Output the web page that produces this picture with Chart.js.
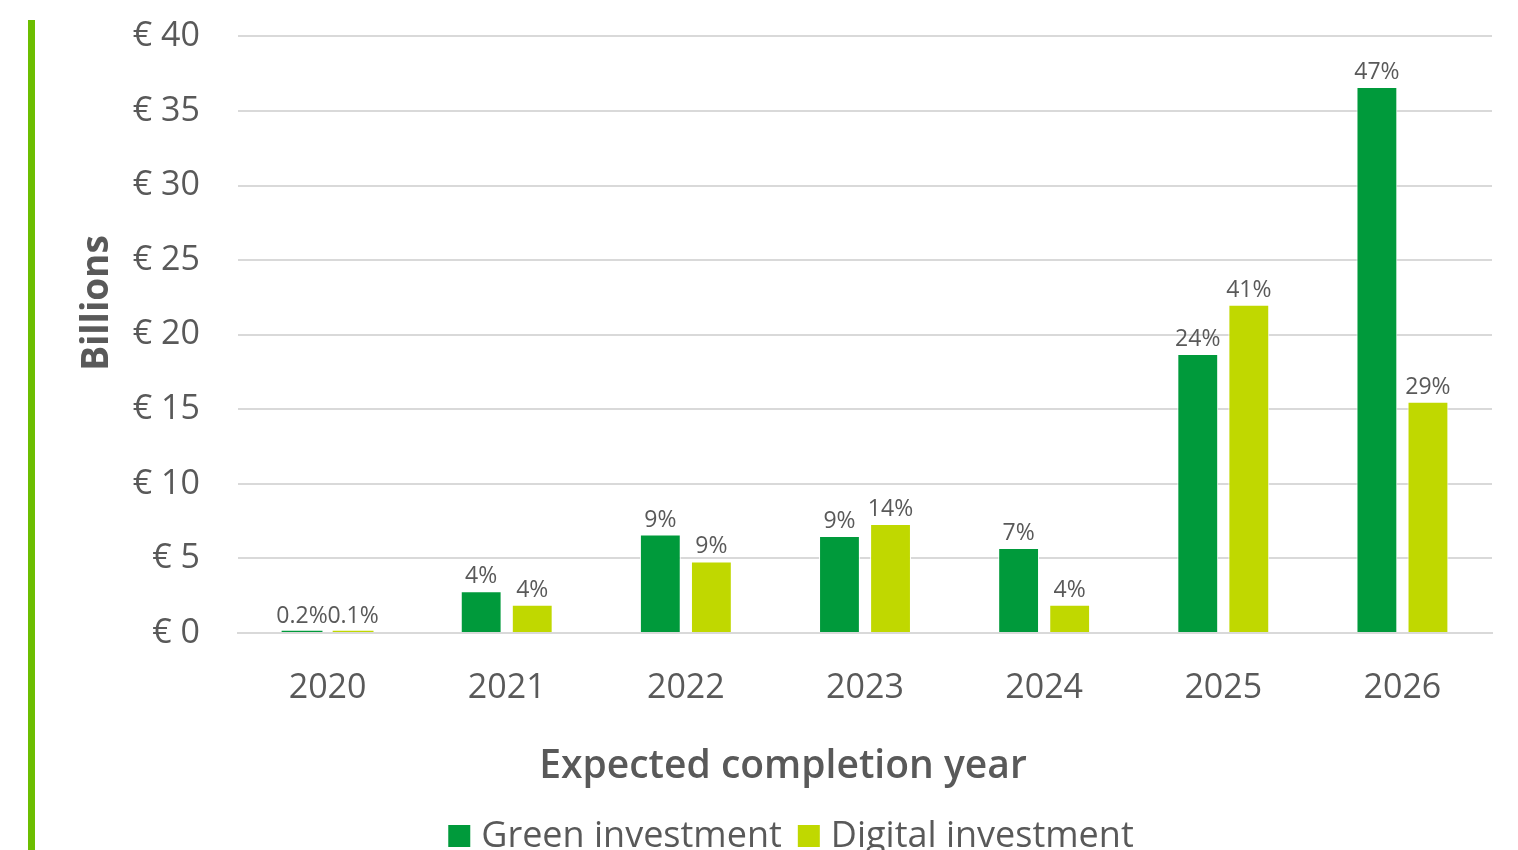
<!DOCTYPE html>
<html>
<head>
<meta charset="utf-8">
<script src="https://cdn.jsdelivr.net/npm/chart.js@4.4.0/dist/chart.umd.min.js"></script>
<style>
  html, body { margin: 0; padding: 0; background: #fff; overflow: hidden; }
  #wrap { position: relative; width: 1518px; height: 850px; overflow: hidden; }
  #bar { position: absolute; left: 28px; top: 20px; width: 7px; height: 830px; background: #6cbe00; }
  #holder { position: absolute; left: 0; top: -22px; width: 1518px; height: 872px; }
</style>
</head>
<body>
<div id="wrap">
  <div id="bar"></div>
  <div id="holder"><canvas id="chart"></canvas></div>
</div>
<script>
// years and values (billions of euro), shares shown above bars
const years = ['2020', '2021', '2022', '2023', '2024', '2025', '2026'];
const greenValues = [0.15, 2.8, 6.6, 6.5, 5.7, 18.7, 36.6];
const digitalValues = [0.15, 1.9, 4.8, 7.3, 1.9, 22.0, 15.5];
const greenShares = ['0.2%', '4%', '9%', '9%', '7%', '24%', '47%'];
const digitalShares = ['0.1%', '4%', '9%', '14%', '4%', '41%', '29%'];

const grey = '#595959';
const font = "'Open Sans', 'Noto Sans', sans-serif";
const OY = 22; // canvas sits 22px above the page top

const shareLabels = {
  id: 'shareLabels',
  afterDatasetsDraw(chart) {
    const ctx = chart.ctx;
    ctx.save();
    ctx.font = '23px ' + font;
    ctx.fillStyle = grey;
    ctx.textAlign = 'center';
    ctx.textBaseline = 'bottom';
    const sets = [greenShares, digitalShares];
    chart.data.datasets.forEach((ds, i) => {
      chart.getDatasetMeta(i).data.forEach((bar, j) => {
        ctx.fillText(sets[i][j], bar.x, bar.y - 3);
      });
    });
    ctx.restore();
  }
};

// axis titles and legend, placed like the original
const extras = {
  id: 'extras',
  afterDraw(chart) {
    const ctx = chart.ctx;
    ctx.save();
    ctx.fillStyle = grey;

    ctx.translate(97, 303 + OY);
    ctx.rotate(-Math.PI / 2);
    ctx.font = 'bold 37px ' + font;
    ctx.textAlign = 'center';
    ctx.textBaseline = 'middle';
    ctx.fillText('Billions', 0, 0);
    ctx.setTransform(1, 0, 0, 1, 0, 0);

    ctx.font = '600 39px ' + font;
    ctx.textAlign = 'center';
    ctx.textBaseline = 'alphabetic';
    ctx.fillText('Expected completion year', 783, 778 + OY);

    ctx.font = '36px ' + font;
    const box = 22, gapBox = 11, gapItem = 16;
    const items = chart.data.datasets.map((ds) => ({
      text: ds.label, color: ds.backgroundColor, w: ctx.measureText(ds.label).width,
    }));
    let total = 0;
    items.forEach((it, i) => { total += box + gapBox + it.w + (i ? gapItem : 0); });
    let x = 791 - total / 2;
    ctx.textAlign = 'left';
    items.forEach((it) => {
      ctx.fillStyle = it.color;
      ctx.fillRect(x, 825 + OY, box, box);
      x += box + gapBox;
      ctx.fillStyle = grey;
      ctx.fillText(it.text, x, 847 + OY);
      x += it.w + gapItem;
    });
    ctx.restore();
  }
};

const thinBorder = (c) => (c.raw < 1 ? 0 : 1);

new Chart(document.getElementById('chart'), {
  type: 'bar',
  data: {
    labels: years,
    datasets: [
      {
        label: 'Green investment',
        data: greenValues,
        backgroundColor: '#009a3b',
        borderColor: '#ffffff',
        borderWidth: thinBorder,
        categoryPercentage: 0.57,
        barPercentage: 0.8,
      },
      {
        label: 'Digital investment',
        data: digitalValues,
        backgroundColor: '#c0d800',
        borderColor: '#ffffff',
        borderWidth: thinBorder,
        categoryPercentage: 0.57,
        barPercentage: 0.8,
      },
    ],
  },
  options: {
    responsive: true,
    maintainAspectRatio: false,
    animation: false,
    layout: { padding: { left: 0, right: 26, top: 0, bottom: 0 } },
    scales: {
      x: {
        afterFit(scale) { scale.height = 850 - 633; },
        grid: { display: false },
        border: { color: '#d9d9d9', width: 2 },
        ticks: { color: grey, font: { family: font, size: 34 }, padding: 27 },
      },
      y: {
        min: 0,
        max: 40,
        afterFit(scale) { scale.width = 238; },
        grid: { color: '#d9d9d9', lineWidth: 2, drawTicks: false },
        border: { display: false },
        ticks: {
          stepSize: 5,
          color: grey,
          font: { family: font, size: 34 },
          padding: 38,
          callback: (v) => '€ ' + v,
        },
      },
    },
    plugins: {
      tooltip: { enabled: false },
      legend: { display: false },
    },
  },
  plugins: [shareLabels, extras],
});
</script>
</body>
</html>
